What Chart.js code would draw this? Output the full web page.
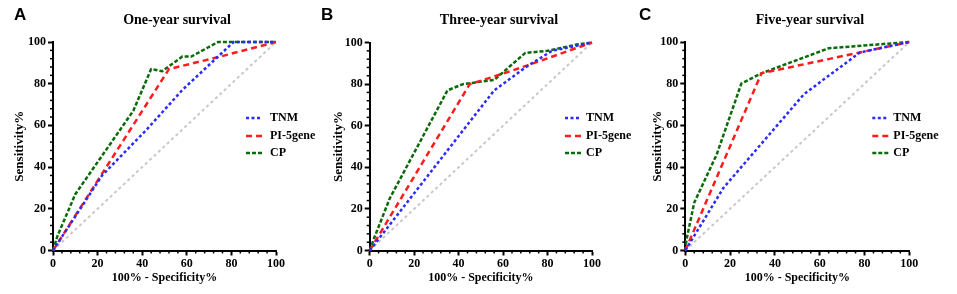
<!DOCTYPE html>
<html>
<head>
<meta charset="utf-8">
<script src="https://cdn.jsdelivr.net/npm/chart.js@4"></script>
<style>
  html, body { margin: 0; padding: 0; background: #fff; }
  .row { display: flex; width: 957px; height: 294px; }
  canvas { display: block; }
</style>
</head>
<body>
<div class="row">
  <canvas id="chartA" width="319" height="294"></canvas>
  <canvas id="chartB" width="319" height="294"></canvas>
  <canvas id="chartC" width="319" height="294"></canvas>
</div>
<script>
// 100% - specificity (x) and sensitivity (y)
const tnmA_x = [0, 22, 42, 58, 81, 100];
const tnmA_y = [0, 36, 58, 77, 100, 100];
const piA_x = [0, 52, 75, 100];
const piA_y = [0, 87, 93, 100];
const cpA_x = [0, 2, 10, 36, 44, 49, 58, 62, 74, 100];
const cpA_y = [0, 7, 27, 67, 87, 86, 93, 93, 100, 100];

const tnmB_x = [0, 56, 70, 82, 100];
const tnmB_y = [0, 77, 88, 96, 100];
const piB_x = [0, 45, 57, 71, 100];
const piB_y = [0, 80, 84, 89, 100];
const cpB_x = [0, 2, 9, 35, 42, 56, 70, 80, 93, 100];
const cpB_y = [0, 6, 25, 77, 80, 82, 95, 96, 99, 100];

const tnmC_x = [0, 17, 53, 78, 100];
const tnmC_y = [0, 30, 75, 95, 100];
const piC_x = [0, 34, 78, 100];
const piC_y = [0, 85, 95, 100];
const cpC_x = [0, 0.5, 4, 14, 25, 34, 64, 100];
const cpC_y = [0, 5, 23, 46, 80, 85, 97, 100];

const seriesNames = ['TNM', 'PI-5gene', 'CP'];
const panelLetters = ['A', 'B', 'C'];
const panelTitles = ['One-year survival', 'Three-year survival', 'Five-year survival'];
const xTitle = '100% - Specificity%';
const yTitle = 'Sensitivity%';

const styles = [
  { color: '#2b2bff', dash: [3, 2.5] },
  { color: '#ff1c1c', dash: [6, 4] },
  { color: '#0b6b0b', dash: [4, 2] }
];

const serif = '"Liberation Serif", "Times New Roman", serif';

const toPoints = (xs, ys) => xs.map((x, i) => ({ x, y: ys[i] }));

const panels = [
  { id: 'chartA', left: 53, right: 276, top: 42, bottom: 250.5, letterX: 14, titleX: 177, legLine: -30, legText: -6,
    series: [[tnmA_x, tnmA_y], [piA_x, piA_y], [cpA_x, cpA_y]] },
  { id: 'chartB', left: 50.7, right: 273, top: 42.5, bottom: 250.5, letterX: 2, titleX: 180, legLine: -27, legText: -6,
    series: [[tnmB_x, tnmB_y], [piB_x, piB_y], [cpB_x, cpB_y]] },
  { id: 'chartC', left: 47.3, right: 271.3, top: 42, bottom: 250.5, letterX: 1, titleX: 172, legLine: -37, legText: -16,
    series: [[tnmC_x, tnmC_y], [piC_x, piC_y], [cpC_x, cpC_y]] }
];

const decorPlugin = {
  id: 'decor',
  afterDraw(chart, args, opts) {
    const { ctx, chartArea } = chart;
    const xs = chart.scales.x, ys = chart.scales.y;
    ctx.save();
    // minor ticks every 4
    ctx.strokeStyle = '#000';
    ctx.lineWidth = 1.5;
    for (let v = 4; v < 100; v += 4) {
      if (v % 20 === 0) continue;
      const py = ys.getPixelForValue(v);
      ctx.beginPath(); ctx.moveTo(chartArea.left, py); ctx.lineTo(chartArea.left - 3, py); ctx.stroke();
      const px = xs.getPixelForValue(v);
      ctx.beginPath(); ctx.moveTo(px, chartArea.bottom); ctx.lineTo(px, chartArea.bottom + 3); ctx.stroke();
    }
    // panel letter
    ctx.fillStyle = '#000';
    ctx.textBaseline = 'middle';
    ctx.textAlign = 'left';
    ctx.font = 'bold 17px "Liberation Sans", Arial, sans-serif';
    ctx.fillText(opts.letter, opts.letterX, 15);
    // title
    ctx.textAlign = 'center';
    ctx.font = 'bold 14px ' + serif;
    ctx.fillText(opts.title, opts.titleX, 20);
    // axis titles
    ctx.font = 'bold 12px ' + serif;
    ctx.fillText(xTitle, (chartArea.left + chartArea.right) / 2, 278);
    ctx.save();
    ctx.translate(19.5, (chartArea.top + chartArea.bottom) / 2);
    ctx.rotate(-Math.PI / 2);
    ctx.font = 'bold 13px ' + serif;
    ctx.fillText(yTitle, 0, 0);
    ctx.restore();
    // legend
    const rows = [118, 136, 153];
    ctx.textAlign = 'left';
    ctx.font = 'bold 12px ' + serif;
    seriesNames.forEach((name, i) => {
      const x0 = chartArea.right + opts.legLine;
      ctx.strokeStyle = styles[i].color;
      ctx.lineWidth = 2.5;
      ctx.setLineDash(styles[i].dash);
      ctx.beginPath(); ctx.moveTo(x0, rows[i]); ctx.lineTo(x0 + 16, rows[i]); ctx.stroke();
      ctx.setLineDash([]);
      ctx.fillStyle = '#000';
      ctx.fillText(name, chartArea.right + opts.legText, rows[i]);
    });
    ctx.restore();
  }
};

panels.forEach((p, k) => {
  const datasets = p.series.map((s, i) => ({
    label: seriesNames[i],
    data: toPoints(s[0], s[1]),
    borderColor: styles[i].color,
    borderDash: styles[i].dash,
    borderWidth: 2.5,
    pointRadius: 0,
    tension: 0,
    clip: 4
  }));
  datasets.push({
    label: 'reference',
    data: toPoints([0, 100], [0, 100]),
    borderColor: '#c8c8c8',
    borderDash: [3, 3],
    borderWidth: 2,
    pointRadius: 0,
    clip: 4
  });

  const axisBase = {
    type: 'linear',
    min: 0,
    max: 100,
    border: { display: true, color: '#000', width: 2 },
    grid: { display: true, drawOnChartArea: false, drawTicks: true, tickLength: 5, tickWidth: 2, tickColor: '#000' },
    ticks: { stepSize: 20, color: '#000', font: { family: serif, size: 12, weight: 'bold' } }
  };

  new Chart(document.getElementById(p.id).getContext('2d'), {
    type: 'line',
    data: { datasets },
    options: {
      responsive: false,
      animation: false,
      devicePixelRatio: 1,
      layout: { padding: { left: 0, top: p.top, right: 319 - p.right, bottom: 0 } },
      plugins: {
        legend: { display: false },
        tooltip: { enabled: false },
        decor: { letter: panelLetters[k], title: panelTitles[k], letterX: p.letterX, titleX: p.titleX, legLine: p.legLine, legText: p.legText }
      },
      scales: {
        x: { ...axisBase, ticks: { ...axisBase.ticks, padding: 1, maxRotation: 0 },
             afterFit: (s) => { s.height = 294 - p.bottom; } },
        y: { ...axisBase, ticks: { ...axisBase.ticks, padding: 2 },
             afterFit: (s) => { s.width = p.left; } }
      }
    },
    plugins: [decorPlugin]
  });
});
</script>
</body>
</html>
